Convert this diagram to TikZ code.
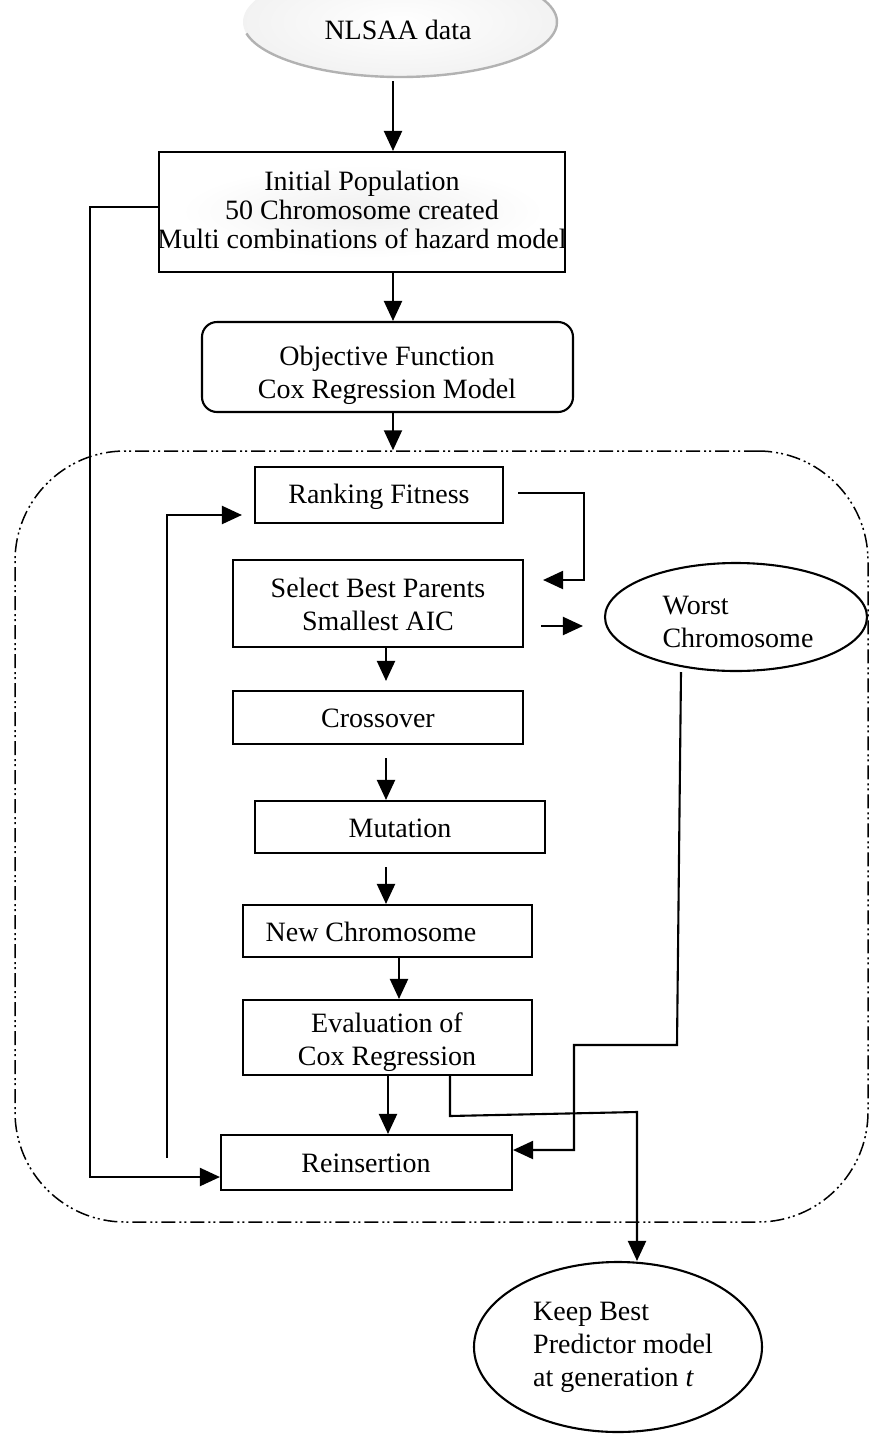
\documentclass[tikz,border=0pt]{standalone}
\usepackage{fontspec}
\setmainfont{Liberation Serif}
\usetikzlibrary{arrows.meta,shapes.geometric,calc}
\begin{document}
\begin{tikzpicture}[x=1pt,y=-1pt,
  box/.style={draw, line width=2.1pt, rectangle, inner sep=0pt},
  lbl/.style={inner sep=0pt, align=center, font=\fontsize{28}{33}\selectfont},
  lbll/.style={inner sep=0pt, align=left, font=\fontsize{28}{33}\selectfont},
  arr/.style={line width=2.1pt, -{Triangle[length=20pt,width=18pt]}},
  ell/.style={draw, ellipse, line width=2.1pt, inner sep=0pt},
  loopreg/.style={draw, line width=1.5pt, dash pattern=on 14pt off 4pt on 2pt off 3pt on 2pt off 4pt, rounded corners=110pt, inner sep=0pt}
]
\useasboundingbox (0,0) rectangle (871,1435);

% top data ellipse
\node[ellipse, minimum width=314, minimum height=112, inner sep=0pt, inner color=white, outer color=gray!10] (nlsaa) at (400,22) {};
\draw[gray!60, line width=2.4pt] (400,22) ++(-25:157 and 55) arc[start angle=-25, end angle=168, x radius=157, y radius=55];
\node[lbl] (nlsaat) at (398,30) {NLSAA data};

% boxes
\node[box, minimum width=406, minimum height=120] (init) at (362,212) {};
\shade[inner color=gray!12, outer color=white] (180,165) rectangle (545,258);
\node[lbl, font=\fontsize{28}{29}\selectfont] (initt) at (362,210) {Initial Population\\50 Chromosome created\\Multi combinations of hazard model};

\node[box, rounded corners=15pt, minimum width=371, minimum height=90] (obj) at (387.5,367) {};
\node[lbl] (objt) at (387,375) {Objective Function\\Cox Regression Model};

\node[loopreg, minimum width=853, minimum height=771] (loop) at (441.5,836.5) {};

\node[box, minimum width=248, minimum height=56] (rank) at (379,495) {};
\node[lbl] (rankt) at (379,497) {Ranking Fitness};

\node[box, minimum width=290, minimum height=87] (sel) at (378,603.5) {};
\node[lbl] (selt) at (378,604) {Select Best Parents\\Smallest AIC};

\node[box, minimum width=290, minimum height=53] (cross) at (378,717.5) {};
\node[lbl] (crosst) at (378,718) {Crossover};

\node[box, minimum width=290, minimum height=52] (mut) at (400,827) {};
\node[lbl] (mutt) at (400,828) {Mutation};

\node[box, minimum width=289, minimum height=52] (newc) at (387.5,931) {};
\node[lbl] (newct) at (371,932) {New Chromosome};

\node[box, minimum width=289, minimum height=75] (eval) at (387.5,1037.5) {};
\node[lbl] (evalt) at (387,1042) {Evaluation of\\Cox Regression};

\node[box, minimum width=291, minimum height=55] (reins) at (366.5,1162.5) {};
\node[lbl] (reinst) at (366,1163) {Reinsertion};

\node[ell, minimum width=262, minimum height=108] (worst) at (736,617) {};
\node[lbll] (worstt) at (738,622) {Worst\\Chromosome};

\node[ell, minimum width=288, minimum height=170] (keep) at (618,1347) {};
\node[lbll] (keept) at (623,1347) {Keep Best\\Predictor model\\at generation \textit{t}};

% helper coordinates
\coordinate (c1) at (393,0);
\coordinate (cL) at (90,0);
\coordinate (cLoop) at (167,0);
\coordinate (cR) at (584,0);
\coordinate (cW) at (574,0);
\coordinate (cK) at (637,0);

% connectors
\draw[arr] (nlsaa.south -| c1) ++(0,3) -- (init.north -| c1);
\draw[arr] (init.south -| c1) -- (obj.north -| c1);
\draw[arr] (obj.south -| c1) -- (loop.north -| c1);

\coordinate (rankin) at ($(rank.west)+(-12,20)$);
\draw[arr] ($(reins.west -| cLoop)+(0,-5)$) -- (rankin -| cLoop) -- (rankin);

\coordinate (rankout) at ($(rank.east)+(14,-2)$);
\coordinate (selin) at ($(sel.east)+(19,-23.5)$);
\draw[arr] (rankout) -- (rankout -| cR) -- (selin -| cR) -- (selin);

\coordinate (selout) at ($(sel.east)+(17,22.5)$);
\coordinate (wtip) at ($(worst.west |- selout)+(-21,0)$);
\draw[arr] (selout) -- (wtip);

\draw[arr] (sel.south -| 386,0) -- ($(cross.north -| 386,0)+(0,-9)$);
\draw[arr] ($(cross.south -| 386,0)+(0,13)$) -- (mut.north -| 386,0);
\draw[arr] ($(mut.south -| 386,0)+(0,13)$) -- (newc.north -| 386,0);
\draw[arr] (newc.south -| 399,0) -- (eval.north -| 399,0);
\draw[arr] (eval.south -| 388,0) -- (reins.north -| 388,0);

\coordinate (reinsL) at ($(reins.west)+(0,14.5)$);
\draw[arr] (init.west |- 0,207) -- (cL |- 0,207) -- (cL |- reinsL) -- (reinsL);

\coordinate (reinsR) at ($(reins.east)+(0,-12.5)$);
\draw[arr] (681,672) -- (677,1045) -- (cW |- 0,1045) -- (cW |- reinsR) -- (reinsR);

\draw[arr] (eval.south -| 450,0) -- (450,1116) -- (637,1112) -- (keep.north -| cK);
\end{tikzpicture}
\end{document}
